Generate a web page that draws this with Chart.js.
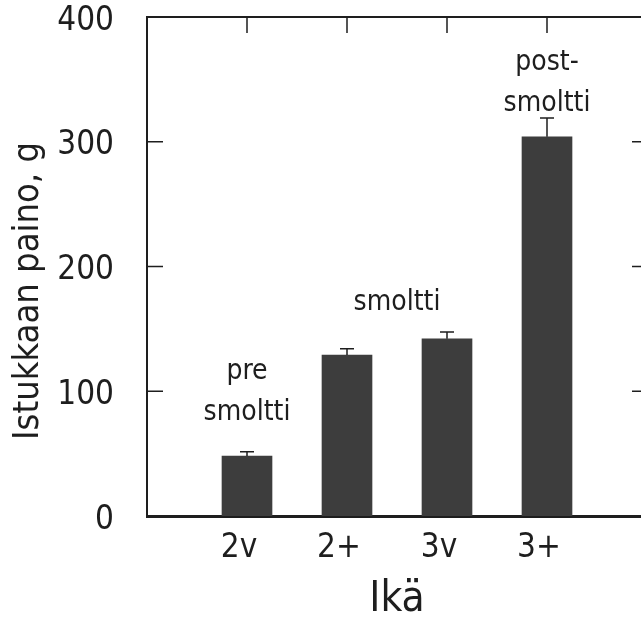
<!DOCTYPE html>
<html>
<head>
<meta charset="utf-8">
<script src="https://cdn.jsdelivr.net/npm/chart.js@4.4.1/dist/chart.umd.min.js"></script>
<style>
  html, body { margin: 0; padding: 0; background: #fff; overflow: hidden; }
  canvas { display: block; }
</style>
</head>
<body>
<canvas id="weightChart" width="660" height="618"></canvas>
<script>
// Istukkaan paino iän mukaan (keskiarvo + virhe)
const ages = ['2v', '2+', '3v', '3+'];
const weights = [48, 129, 142, 304];
const errors = [3.5, 5, 5.5, 15];
const yTicks = [0, 100, 200, 300, 400];

const FONT = "'Liberation Sans Narrow', 'DejaVu Sans Condensed', 'Liberation Sans', sans-serif";
const INK = '#1e1e1e';

// empty slot on both sides so the bars sit one step in from the frame
const labels = ['', ...ages, ''];
const values = [null, ...weights, null];

// stage labels: text lines, category range and the value at the last baseline
const stages = [
  { lines: ['pre', 'smoltti'], from: 0, to: 0, at: 77 },
  { lines: ['smoltti'], from: 1, to: 2, at: 165 },
  { lines: ['post-', 'smoltti'], from: 3, to: 3, at: 325 }
];

const errorBars = {
  id: 'errorBars',
  afterDatasetsDraw(chart) {
    const { ctx, scales: { y } } = chart;
    const meta = chart.getDatasetMeta(0);
    ctx.save();
    ctx.strokeStyle = INK;
    ctx.lineWidth = 1.5;
    weights.forEach((w, i) => {
      const bar = meta.data[i + 1];
      const top = y.getPixelForValue(w + errors[i]);
      ctx.beginPath();
      ctx.moveTo(bar.x, bar.y);
      ctx.lineTo(bar.x, top);
      ctx.moveTo(bar.x - 7, top);
      ctx.lineTo(bar.x + 7, top);
      ctx.stroke();
    });
    ctx.restore();
  }
};

const frame = {
  id: 'frame',
  afterDraw(chart) {
    const { ctx, chartArea: a, scales: { x, y } } = chart;
    ctx.save();
    ctx.strokeStyle = INK;
    ctx.lineWidth = 2;
    ctx.beginPath();
    ctx.moveTo(a.left, a.top);
    ctx.lineTo(a.right, a.top);
    ctx.lineTo(a.right, a.bottom);
    ctx.stroke();
    // inward ticks
    ctx.lineWidth = 1.5;
    ctx.beginPath();
    yTicks.slice(1, -1).forEach(v => {
      const py = y.getPixelForValue(v);
      ctx.moveTo(a.left, py); ctx.lineTo(a.left + 16, py);
      ctx.moveTo(a.right, py); ctx.lineTo(a.right - 15, py);
    });
    ages.forEach((_, i) => {
      const px = x.getPixelForValue(i + 1);
      ctx.moveTo(px, a.top); ctx.lineTo(px, a.top + 16);
    });
    ctx.stroke();

    // stage labels
    ctx.fillStyle = INK;
    ctx.font = '28px ' + FONT;
    ctx.textAlign = 'center';
    ctx.textBaseline = 'alphabetic';
    stages.forEach(s => {
      const cx = (x.getPixelForValue(s.from + 1) + x.getPixelForValue(s.to + 1)) / 2;
      const base = y.getPixelForValue(s.at);
      s.lines.forEach((t, k) => {
        ctx.fillText(t, cx, base - (s.lines.length - 1 - k) * 41);
      });
    });

    // y axis title
    ctx.font = '36px ' + FONT;
    ctx.textBaseline = 'middle';
    ctx.translate(29, 291);
    ctx.rotate(-Math.PI / 2);
    ctx.fillText('Istukkaan paino, g', 0, 0);
    ctx.restore();
  }
};

new Chart(document.getElementById('weightChart'), {
  type: 'bar',
  data: {
    labels: labels,
    datasets: [{
      data: values,
      backgroundColor: '#3d3d3d',
      barThickness: 50
    }]
  },
  options: {
    responsive: false,
    animation: false,
    layout: { padding: { top: 17, right: 13, left: 0, bottom: 0 } },
    plugins: {
      legend: { display: false },
      tooltip: { enabled: false }
    },
    scales: {
      x: {
        offset: false,
        grid: { display: false, drawTicks: false },
        border: { display: true, color: INK, width: 3 },
        ticks: {
          color: INK,
          font: { family: FONT, size: 33 },
          padding: 13,
          labelOffset: -8,
          maxRotation: 0,
          autoSkip: false
        },
        title: {
          display: true,
          text: 'Ikä',
          color: INK,
          font: { family: FONT, size: 42, lineHeight: 0.86 },
          padding: { top: 0, bottom: 0 }
        },
        afterFit(scale) {
          scale.height = 102;
          scale.paddingLeft = 0;
          scale.paddingRight = 0;
        }
      },
      y: {
        min: 0,
        max: 400,
        grid: { display: false, drawTicks: false },
        border: { display: true, color: INK, width: 2 },
        ticks: {
          stepSize: 100,
          color: INK,
          font: { family: FONT, size: 33 },
          padding: 33,
          labelOffset: 4,
          callback: v => yTicks.includes(v) ? String(v) : ''
        },
        afterFit(scale) {
          scale.width = 147;
          scale.paddingTop = 0;
          scale.paddingBottom = 0;
        }
      }
    }
  },
  plugins: [errorBars, frame]
});
</script>
</body>
</html>
